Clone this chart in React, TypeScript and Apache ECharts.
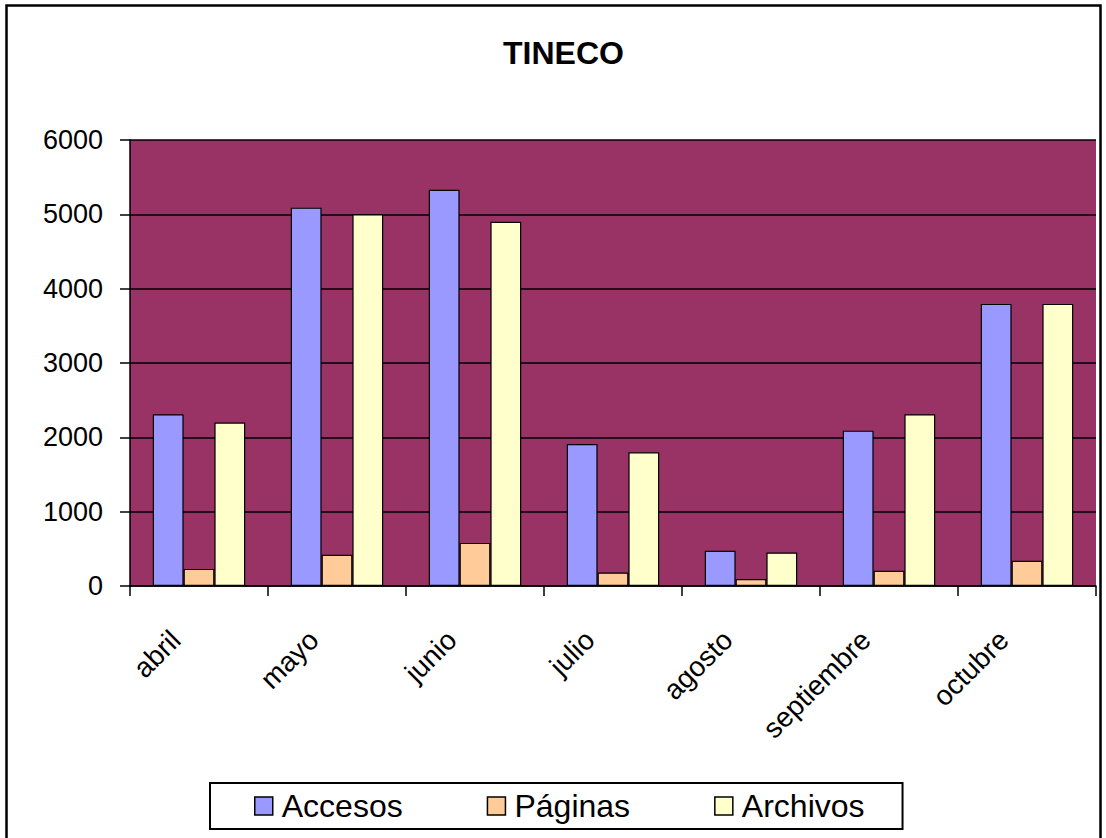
import React, { useEffect, useRef } from "react";
import * as echarts from "echarts";

const months = ["abril", "mayo", "junio", "julio", "agosto", "septiembre", "octubre"];
const accesos = [2310, 5090, 5330, 1910, 475, 2090, 3795];
const paginas = [230, 420, 580, 180, 95, 205, 340];
const archivos = [2200, 5000, 4900, 1800, 450, 2310, 3795];
const seriesNames = ["Accesos", "Páginas", "Archivos"];
const seriesColors = ["#9999FF", "#FFCC99", "#FFFFCC"];

const FONT = "'Liberation Sans', Arial, sans-serif";

export default function App() {
  const ref = useRef<HTMLDivElement>(null);
  useEffect(() => {
    if (!ref.current) return;
    const chart = echarts.init(ref.current, null, { renderer: "svg" });
    const data = [accesos, paginas, archivos];
    chart.setOption({
      animation: false,
      backgroundColor: "#ffffff",
      title: {
        text: "TINECO",
        left: 498,
        top: 32,
        textStyle: { fontFamily: FONT, fontSize: 32, fontWeight: "bold", color: "#000" },
      },
      graphic: [
        {
          type: "rect",
          shape: { x: 6.5, y: 5.5, width: 1094, height: 860 },
          style: { fill: "none", stroke: "#000", lineWidth: 2.5 },
          silent: true,
        },
      ],
      legend: {
        left: 210,
        top: 783,
        orient: "horizontal",
        padding: [7, 38, 7, 44],
        borderColor: "#000",
        borderWidth: 2,
        itemGap: 84,
        itemWidth: 18,
        itemHeight: 18,
        icon: "rect",
        itemStyle: { borderColor: "#000", borderWidth: 1.5 },
        textStyle: { fontFamily: FONT, fontSize: 32, color: "#000", padding: [0, 0, 0, 4] },
        data: seriesNames,
      },
      grid: {
        left: 130,
        right: 10,
        top: 140,
        bottom: 252,
        show: true,
        backgroundColor: "#993366",
        borderWidth: 0,
      },
      xAxis: {
        type: "category",
        data: months,
        axisLine: { show: true, lineStyle: { color: "#000", width: 1.5 } },
        axisTick: { show: true, length: 10, lineStyle: { color: "#000", width: 1.5 } },
        axisLabel: {
          rotate: 45,
          margin: 26,
          padding: [0, 33, 0, 0],
          fontFamily: FONT,
          fontSize: 28,
          color: "#000",
          interval: 0,
        },
      },
      yAxis: {
        type: "value",
        min: 0,
        max: 6000,
        interval: 1000,
        axisLine: { show: true, lineStyle: { color: "#000", width: 1.5 } },
        axisTick: { show: true, length: 10, lineStyle: { color: "#000", width: 1.5 } },
        axisLabel: {
          margin: 27,
          fontFamily: FONT,
          fontSize: 27,
          color: "#000",
          formatter: (v: number) => String(v),
        },
        splitLine: { show: true, lineStyle: { color: "#000", width: 1.5 } },
      },
      series: seriesNames.map((name, i) => ({
        name,
        type: "bar",
        data: data[i],
        barGap: "0%",
        barCategoryGap: "33%",
        itemStyle: { color: seriesColors[i], borderColor: "#000", borderWidth: 1.2 },
      })),
    });
    return () => chart.dispose();
  }, []);
  return (
    <div
      ref={ref}
      style={{ position: "fixed", left: 0, top: 0, width: 1106, height: 838 }}
    />
  );
}
